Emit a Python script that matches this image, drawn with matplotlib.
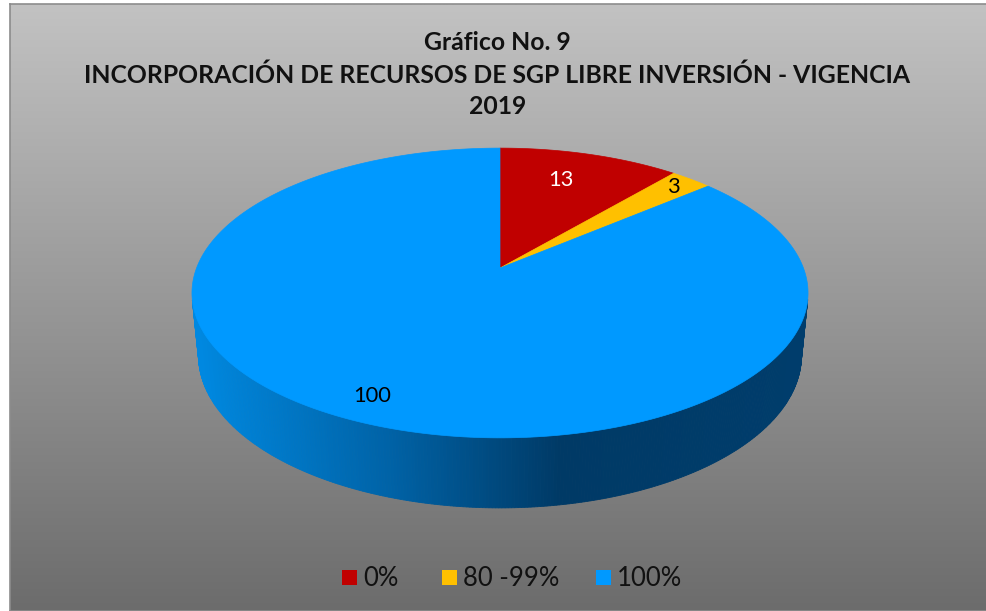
import numpy as np
import matplotlib
matplotlib.use("Agg")
import matplotlib.pyplot as plt
from matplotlib.patches import Polygon, Rectangle
from matplotlib.colors import to_rgb

# ---------------- data ----------------
categories = ["0%", "80 -99%", "100%"]
values = [13, 3, 100]
slice_colors = ["#C00000", "#FFC000", "#0099FF"]
label_colors = ["white", "black", "black"]
title_lines = ["Gráfico No. 9",
               "INCORPORACIÓN DE RECURSOS DE SGP LIBRE INVERSIÓN - VIGENCIA",
               "2019"]

# ---------------- layout ----------------
W, H = 987, 611
FONT = "Lato"

fig = plt.figure(figsize=(W / 100, H / 100), dpi=100)
fig.patch.set_facecolor("white")

# background panel with vertical gradient
bg = fig.add_axes([10 / W, 0, (W - 10) / W, (H - 4) / H])
g = np.linspace(0, 1, 256)[:, None, None]
c_top = np.array(to_rgb("#C2C2C2"))
c_bot = np.array(to_rgb("#6C6C6C"))
img = c_top[None, None, :] * (1 - g) + c_bot[None, None, :] * g
img = np.repeat(img, 2, axis=1)
bg.imshow(img, aspect="auto", extent=[0, 1, 0, 1], interpolation="bilinear")
bg.set_xticks([]); bg.set_yticks([])
for s in bg.spines.values():
    s.set_color("#8C8C8C"); s.set_linewidth(1.2)

ax = fig.add_axes([0, 0, 1, 1])
ax.set_xlim(0, W); ax.set_ylim(H, 0)
ax.axis("off")
ax.patch.set_alpha(0)

# perspective projection of a unit-radius pie
cx, cy = 500.0, 268.0
F, L = 1559.6, 5.14
th = np.radians(27.6)
T = 0.2344


def proj(phi, Y, r=1.0):
    X = r * np.sin(phi)
    Z = r * np.cos(phi)
    D = L + Z * np.cos(th) - Y * np.sin(th)
    U = Y * np.cos(th) + Z * np.sin(th)
    return cx + F * X / D, cy - F * U / D


total = float(sum(values))
bounds = np.concatenate([[0], np.cumsum(values)]) / total * 2 * np.pi

# side (visible outer wall)
cos_lim = -1.0 / (L * np.cos(th))
side_c = [(198, to_rgb("#0088E0")), (390, to_rgb("#0062A6")),
          (560, to_rgb("#003A66")), (808, to_rgb("#003D6C"))]


def side_color(x):
    xs = [p[0] for p in side_c]
    return tuple(np.interp(x, xs, [p[1][i] for p in side_c]) for i in range(3))


for i in range(len(values)):
    a0, a1 = bounds[i], bounds[i + 1]
    phis = np.linspace(a0, a1, 600)
    for k in range(len(phis) - 1):
        p0, p1 = phis[k], phis[k + 1]
        if np.cos(0.5 * (p0 + p1)) >= cos_lim:
            continue
        xa, ya = proj(p0, 0); xb, yb = proj(p1, 0)
        xc, yc = proj(p1, -T); xd, yd = proj(p0, -T)
        col = side_color(0.5 * (xa + xb))
        ax.add_patch(Polygon([(xa, ya), (xb, yb), (xc, yc), (xd, yd)],
                             closed=True, facecolor=col, edgecolor=col,
                             linewidth=0.6, antialiased=True))

# top faces
for i in range(len(values)):
    phis = np.linspace(bounds[i], bounds[i + 1], 300)
    xs, ys = proj(phis, 0)
    pts = [(cx, cy)] + list(zip(xs, ys))
    ax.add_patch(Polygon(pts, closed=True, facecolor=slice_colors[i],
                         edgecolor=slice_colors[i], linewidth=0.5))

renderer = fig.canvas.get_renderer()


def fit_size(txt, width_px, base=16, **kw):
    t = fig.text(0, 0, txt, fontsize=base, family=FONT, **kw)
    w = t.get_window_extent(renderer).width
    t.remove()
    return base * width_px / w


# data labels
label_r = [0.74, 0.90, 0.87]
label_frac = [0.44, 0.5, 0.5]
lab_size = fit_size("100", 33) * 1.15
for i in range(len(values)):
    ang = bounds[i] + label_frac[i] * (bounds[i + 1] - bounds[i])
    lx, ly = proj(ang, 0, label_r[i])
    ax.text(lx, ly, str(values[i]), color=label_colors[i], fontsize=lab_size,
            family=FONT, ha="center", va="center")

# title
t_size = fit_size(title_lines[1], 764, weight="bold") * 1.08
for txt, y in zip(title_lines, [42, 75, 107]):
    ax.text(W / 2 + 4, y, txt, fontsize=t_size, weight="bold", family=FONT,
            ha="center", va="center", color="#111111")

# legend
leg_size = fit_size("80 -99%", 86) * 1.12
sq_x = [342, 442, 596]
for i, cat in enumerate(categories):
    ax.add_patch(Rectangle((sq_x[i], 570), 15, 15, facecolor=slice_colors[i],
                           edgecolor="none"))
    ax.text(sq_x[i] + 21, 578, cat, fontsize=leg_size, family=FONT,
            ha="left", va="center", color="#111111")

fig.savefig("out.png", dpi=100)
